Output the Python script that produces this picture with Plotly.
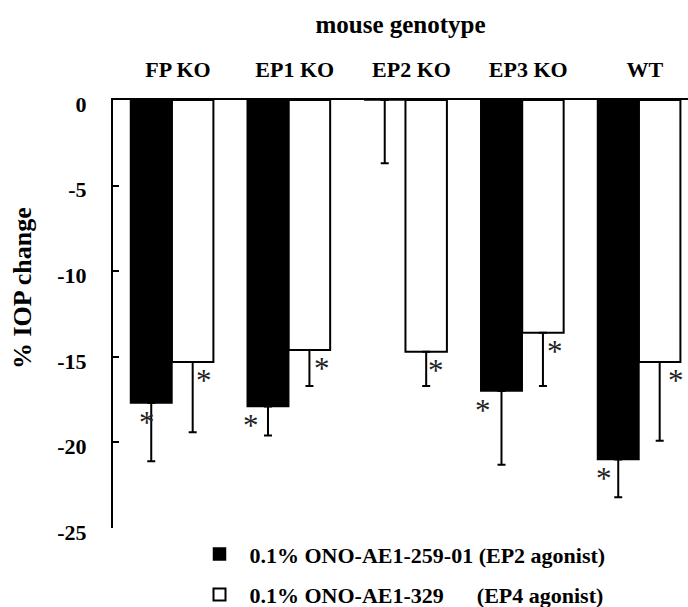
import plotly.graph_objects as go

genotypes = ["FP KO", "EP1 KO", "EP2 KO", "EP3 KO", "WT"]
ep2_agonist = [-17.7, -17.9, 0.0, -17.0, -21.0]
ep2_err = [3.4, 1.7, 3.7, 4.3, 2.2]
ep4_agonist = [-15.3, -14.6, -14.7, -13.6, -15.3]
ep4_err = [4.1, 2.1, 2.0, 3.1, 4.6]
ep2_sig = [True, True, False, True, True]
ep4_sig = [True, True, True, True, True]
y_ticks = [0, -5, -10, -15, -20, -25]

name2 = "0.1% ONO-AE1-259-01 (EP2 agonist)"
name4 = "0.1% ONO-AE1-329" + "\u00a0" * 6 + "(EP4 agonist)"

SERIF = "Liberation Serif, Times New Roman, serif"
BOLD = dict(family=SERIF, size=22, color="black", weight="bold")

fig = go.Figure()
fig.add_trace(go.Bar(
    x=genotypes, y=ep2_agonist, name=name2, legendgroup="a",
    marker=dict(color="black", line=dict(color="black", width=1.5)),
    error_y=dict(type="data", symmetric=False, array=[0] * 5, arrayminus=ep2_err,
                 color="black", thickness=2, width=4),
))
fig.add_trace(go.Bar(
    x=genotypes, y=ep4_agonist, name=name4, legendgroup="b",
    marker=dict(color="white", line=dict(color="black", width=2)),
    error_y=dict(type="data", symmetric=False, array=[0] * 5, arrayminus=ep4_err,
                 color="black", thickness=2, width=4),
))

# significance asterisks
star_dx_black = [-25, -38, -38, -39, -35]
star_dx_white = [32, 33, 31, 33, 37]
for i, g in enumerate(genotypes):
    if ep2_sig[i]:
        fig.add_annotation(x=g, y=ep2_agonist[i], xref="x", yref="y", text="*",
                           showarrow=False, xshift=star_dx_black[i], yshift=-19,
                           font=dict(family=SERIF, size=31, color="#222"))
    if ep4_sig[i]:
        fig.add_annotation(x=g, y=ep4_agonist[i], xref="x", yref="y", text="*",
                           showarrow=False, xshift=star_dx_white[i], yshift=-19,
                           font=dict(family=SERIF, size=31, color="#222"))

fig.add_annotation(text="% IOP change", textangle=-90, showarrow=False,
                   xref="paper", yref="paper", x=-0.157, y=0.56,
                   xanchor="center", yanchor="middle",
                   font=dict(family=SERIF, size=26, color="black", weight="bold"))

fig.update_layout(
    width=688, height=607,
    margin=dict(l=113, r=0, t=100, b=79, autoexpand=False),
    paper_bgcolor="white", plot_bgcolor="white",
    barmode="group", bargap=0.29, bargroupgap=0,
    title=dict(text="mouse genotype", x=0.5, xref="paper", xanchor="center",
               y=1 - 24 / 607, yref="container", yanchor="middle",
               font=dict(family=SERIF, size=25, color="black", weight="bold")),
    font=dict(family=SERIF, color="black"),
    showlegend=True,
    legend=dict(x=(189.5 - 113) / 575, y=-0.012, xanchor="left", yanchor="top",
                font=dict(family=SERIF, size=22, color="black", weight="bold"),
                itemwidth=50,
                traceorder="grouped", tracegroupgap=9,
                bgcolor="rgba(0,0,0,0)"),
)
fig.update_xaxes(side="top", showline=True, linecolor="black", linewidth=2,
                 ticks="", range=[-0.505, 4.42], showgrid=False, zeroline=False,
                 automargin=False, tickfont=BOLD, ticklabelshift=6,
                 ticklabelstandoff=12)
fig.update_yaxes(range=[-25, 0], showline=True, linecolor="black", linewidth=2,
                 ticks="inside", ticklen=6, tickwidth=1.5, tickcolor="black",
                 tickvals=y_ticks, ticktext=[str(v) for v in y_ticks],
                 showgrid=False, zeroline=False, ticklabelshift=4,
                 automargin=False, tickfont=BOLD, ticklabelstandoff=20)

fig.write_html("out.html", config={"displayModeBar": False},
               post_script="document.body.style.margin='0';")
